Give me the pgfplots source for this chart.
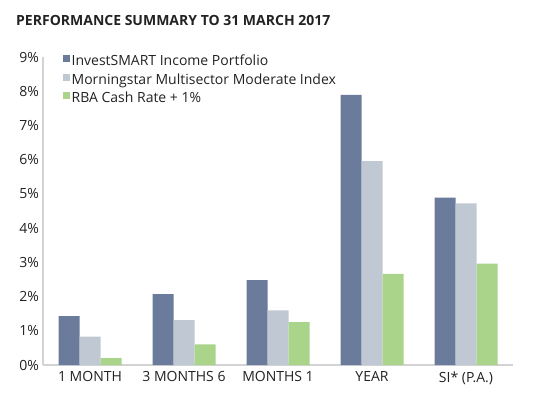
\documentclass[border=0pt]{standalone}
\usepackage{fontspec}
\setmainfont{Open Sans}
\usepackage{pgfplots}
\pgfplotsset{compat=1.18}
\definecolor{cblue}{HTML}{6A7B9C}
\definecolor{cgrey}{HTML}{C0C9D3}
\definecolor{cgreen}{HTML}{A9D48A}
\definecolor{axgrey}{HTML}{D3D3D3}
\definecolor{txt}{HTML}{222222}
\begin{document}
\begin{tikzpicture}[x=1bp,y=1bp]
\useasboundingbox (0,0) rectangle (553,398);
\node[anchor=base west, font=\fontsize{14bp}{16bp}\selectfont\bfseries, text=txt, inner sep=0pt] at (16,372.5) {PERFORMANCE SUMMARY TO 31 MARCH 2017};
\begin{axis}[
  at={(43bp,33bp)}, anchor=south west,
  scale only axis, width=470bp, height=308bp,
  xmin=-0.5, xmax=4.5, ymin=0, ymax=9,
  ybar=0pt, bar width=21bp,
  axis lines=left, axis line style={-, draw=axgrey, line width=2.6bp},
  xtick={0,1,2,3,4},
  xticklabels={1 MONTH, 3 MONTHS 6, MONTHS 1, YEAR, SI* (P.A.)},
  ytick={0,1,...,9},
  yticklabel={\pgfmathprintnumber{\tick}\%},
  /pgf/number format/assume math mode=true,
  major tick length=0pt,
  tick label style={font=\fontsize{14bp}{16bp}\selectfont, text=txt},
  yticklabel style={xshift=-0.5bp},
  xticklabel style={yshift=-3bp},
  legend style={draw=none, fill=none, at={(0.035,1.02)}, anchor=north west,
    font=\fontsize{14bp}{16bp}\selectfont, text=txt, row sep=2.5bp,
    /tikz/every even column/.append style={column sep=0pt}},
  legend cell align=left,
  legend image code/.code={\fill[#1] (0bp,-1bp) rectangle (7bp,6bp);},
]
\addplot[fill=cblue, draw=none] coordinates {(0,1.43) (1,2.07) (2,2.48) (3,7.89) (4,4.89)};
\addplot[fill=cgrey, draw=none] coordinates {(0,0.83) (1,1.31) (2,1.60) (3,5.96) (4,4.72)};
\addplot[fill=cgreen, draw=none] coordinates {(0,0.20) (1,0.60) (2,1.25) (3,2.66) (4,2.96)};
\legend{InvestSMART Income Portfolio, Morningstar Multisector Moderate Index, RBA Cash Rate + 1\%}
\end{axis}
\end{tikzpicture}
\end{document}
